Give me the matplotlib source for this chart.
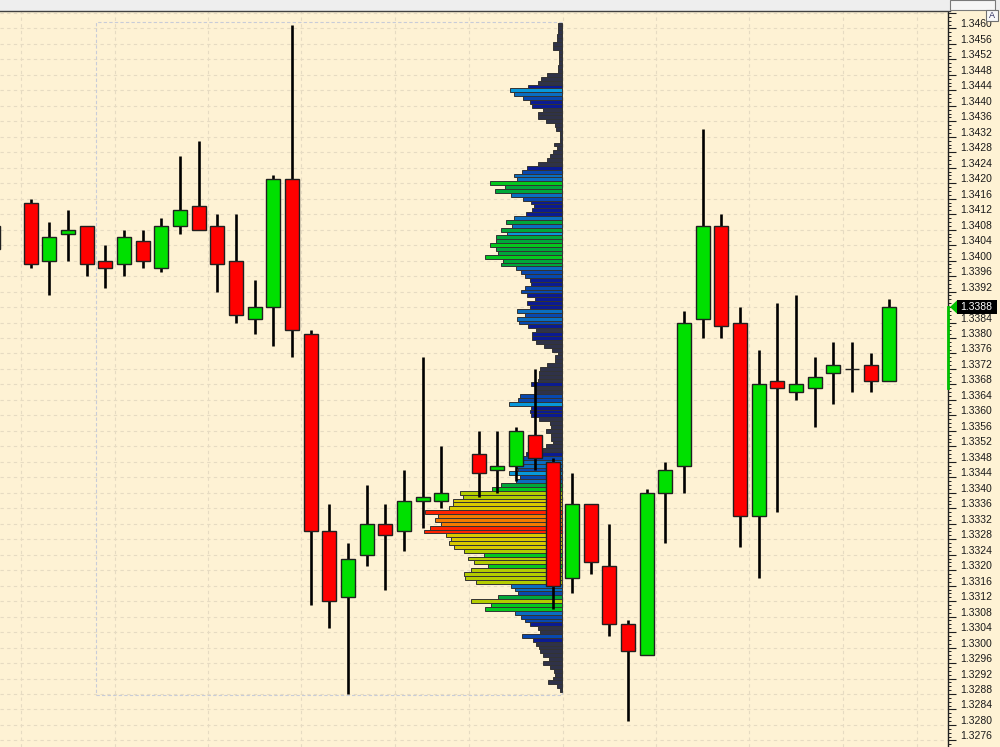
import numpy as np
import matplotlib
matplotlib.use("Agg")
import matplotlib.pyplot as plt
from matplotlib.patches import Rectangle, Polygon
from matplotlib.colors import ListedColormap, BoundaryNorm
from matplotlib.ticker import MultipleLocator
from matplotlib import transforms

nan = np.nan

# OHLC per bar slot (nan = missing bar)
opens = [1.3409, nan, 1.3415, 1.3400, 1.3407, 1.3409, 1.3400, 1.3399, 1.3405, 1.3398,
         1.3409, 1.3414, 1.3409, 1.3400, 1.3385, 1.3388, 1.3421, 1.3381, 1.3330, 1.3313,
         1.3324, 1.3332, 1.3330, 1.3338, 1.3338, nan, 1.3350, 1.3346, 1.3347, 1.3355,
         1.3348, 1.3318, 1.3337, 1.3321, 1.3306, 1.3298, 1.3340, 1.3347, 1.3385, 1.3409,
         1.3384, 1.3334, 1.3369, 1.3366, 1.3367, 1.3371, 1.3372, 1.3373, 1.3369]
highs = [1.3409, nan, 1.3416, 1.3410, 1.3413, 1.3409, 1.3404, 1.3408, 1.3408, 1.3411,
         1.3427, 1.3431, 1.3412, 1.3412, 1.3395, 1.3422, 1.3461, 1.3382, 1.3337, 1.3327,
         1.3342, 1.3337, 1.3346, 1.3375, 1.3352, nan, 1.3356, 1.3356, 1.3357, 1.3372,
         1.3349, 1.3345, 1.3337, 1.3332, 1.3307, 1.3341, 1.3348, 1.3387, 1.3434, 1.3412,
         1.3388, 1.3377, 1.3389, 1.3391, 1.3375, 1.3379, 1.3379, 1.3376, 1.3390]
lows = [1.3403, nan, 1.3398, 1.3391, 1.3400, 1.3396, 1.3393, 1.3396, 1.3398, 1.3397,
        1.3407, 1.3408, 1.3392, 1.3384, 1.3381, 1.3378, 1.3375, 1.3311, 1.3305, 1.3288,
        1.3321, 1.3315, 1.3325, 1.3331, 1.3336, nan, 1.3339, 1.3340, 1.3343, 1.3346,
        1.3310, 1.3314, 1.3319, 1.3303, 1.3281, 1.3298, 1.3327, 1.3340, 1.3380, 1.3380,
        1.3326, 1.3318, 1.3335, 1.3364, 1.3357, 1.3363, 1.3366, 1.3366, 1.3369]
closes = [1.3403, nan, 1.3399, 1.3406, 1.3408, 1.3399, 1.3398, 1.3406, 1.3400, 1.3409,
          1.3413, 1.3408, 1.3399, 1.3386, 1.3388, 1.3421, 1.3382, 1.3330, 1.3312, 1.3323,
          1.3332, 1.3329, 1.3338, 1.3339, 1.3340, nan, 1.3345, 1.3347, 1.3356, 1.3349,
          1.3316, 1.3337, 1.3322, 1.3306, 1.3299, 1.3340, 1.3346, 1.3384, 1.3409, 1.3383,
          1.3334, 1.3368, 1.3367, 1.3368, 1.3370, 1.3373, 1.3372, 1.3369, 1.3388]

# volume profile, one value per pip from the top price downwards
profile_top = 1.3461
profile_step = 0.0001
profile_vol = [4, 4, 4, 5, 5, 9, 9, 3, 3, 3,
               3, 4, 4, 15, 21, 24, 34, 52, 48, 39,
               32, 30, 19, 24, 24, 16, 7, 6, 2, 2,
               2, 8, 5, 9, 12, 15, 24, 35, 40, 48,
               45, 72, 57, 67, 51, 39, 31, 28, 30, 36,
               48, 56, 50, 61, 55, 66, 66, 72, 66, 64,
               77, 59, 61, 46, 41, 37, 32, 31, 37, 41,
               35, 27, 35, 32, 45, 37, 45, 43, 34, 26,
               30, 30, 26, 18, 10, 4, 7, 7, 15, 22,
               23, 23, 24, 31, 26, 26, 42, 44, 53, 31,
               32, 31, 23, 12, 11, 16, 11, 11, 9, 16,
               20, 36, 42, 46, 46, 44, 53, 42, 46, 61,
               70, 102, 99, 109, 109, 113, 137, 124, 127, 121,
               132, 138, 116, 111, 113, 108, 98, 78, 94, 88,
               74, 91, 98, 97, 86, 51, 47, 44, 64, 91,
               71, 77, 47, 41, 37, 32, 24, 22, 40, 29,
               26, 23, 22, 19, 13, 19, 12, 8, 7, 9,
               14, 5, 2]
vol_bounds = [0, 27, 37, 45, 52, 56, 70, 84, 106, 118, 129, 200]
vol_colors = ['#2F3249', '#0B1B92', '#0848AE', '#0A6EC0', '#0898DA', '#00A83A',
              '#05C81E', '#B4CC00', '#D9C900', '#F57A00', '#FF2200']

price_labels = np.arange(13276, 13464, 4) / 10000
grid_slots = [1.5, 6.5, 11.5, 16.5, 21.5, 25.5, 30.5, 35.5, 40.5, 45.5, 49.5]
last_price = 1.3388
last_range = (1.3367, 1.3388)

BG = '#FEF2D4'
W, H = 1000, 747
top_px = 11
axis_px = 948
slot_px = 18.667

fig = plt.figure(figsize=(W / 100, H / 100), dpi=100, facecolor=BG)
ax = fig.add_axes([0, 0, axis_px / W, (H - top_px) / H])
ax.set_facecolor(BG)

x_left = 0.36
ax.set_xlim(x_left, x_left + axis_px / slot_px)
ax.set_ylim(1.32743, 1.34645)

# grid
ax.yaxis.set_major_locator(MultipleLocator(0.0004))
ax.yaxis.set_minor_locator(MultipleLocator(0.0001))
ax.set_xticks(grid_slots)
ax.grid(True, which='major', color='#E6DBC2', ls=(0, (3, 3)), lw=0.8)
ax.set_axisbelow(True)

# volume profile
prof_right = 30.46
vol = np.array(profile_vol, dtype=float)
prices = profile_top - profile_step * np.arange(len(vol))
cmap = ListedColormap(vol_colors)
norm = BoundaryNorm(vol_bounds, cmap.N)
widths = vol / slot_px
ax.add_patch(Rectangle((5.52, 1.32878), prof_right - 5.52, 1.34617 - 1.32878,
                       fill=False, edgecolor='#C8CCD8', ls=(0, (3, 2)), lw=0.8, zorder=1))
ax.barh(prices, widths, left=prof_right - widths, height=profile_step,
        color=cmap(norm(vol)), edgecolor='#333333', linewidth=0.7, zorder=2)

# candles
o = np.array(opens); h = np.array(highs); l = np.array(lows); c = np.array(closes)
x = np.arange(len(o))
ok = ~np.isnan(o)
ax.vlines(x[ok], l[ok], h[ok], color='black', lw=1.9, zorder=3)
body_col = np.where(c[ok] > o[ok], '#00E000', '#FF0000')
ax.bar(x[ok], np.abs(c[ok] - o[ok]), bottom=np.minimum(o[ok], c[ok]), width=0.75,
       color=body_col, edgecolor='#202020', linewidth=1.0, zorder=4)

# right price axis
for side in ['left', 'top', 'bottom']:
    ax.spines[side].set_visible(False)
ax.spines['right'].set_color('#202020')
ax.spines['right'].set_linewidth(1.0)
ax.yaxis.tick_right()
ax.tick_params(axis='y', which='major', direction='out', length=6, width=0.8,
               color='#202020', labelright=False, labelleft=False)
ax.tick_params(axis='y', which='minor', direction='out', length=2.5, width=0.7,
               color='#202020')
ax.tick_params(axis='x', length=0, labelbottom=False)

lab_tr = transforms.offset_copy(ax.get_yaxis_transform(), fig=fig, x=12, y=4, units='dots')
for p in price_labels:
    if abs(p - last_price) < 1e-6:
        continue  # hidden under the last price box
    ax.text(1, p, f"{p:.4f}", transform=lab_tr, ha='left', va='center',
            fontsize=7.5, family='Liberation Sans', color='#1A1A1A', clip_on=False)

# last price marker
fig_data = transforms.blended_transform_factory(fig.transFigure, ax.transData)
ax.plot([0.9475, 0.9475], last_range, transform=fig_data, color='#00C000', lw=2,
        clip_on=False, zorder=6)
ax.add_patch(Polygon([(0.950, last_price), (0.957, last_price + 0.00017),
                      (0.957, last_price - 0.00017)], closed=True, transform=fig_data,
                     facecolor='#00C000', edgecolor='none', clip_on=False, zorder=6))
ax.add_patch(Rectangle((0.957, last_price - 0.00017), 0.040, 0.00034, transform=fig_data,
                       facecolor='black', edgecolor='none', clip_on=False, zorder=6))
ax.text(0.960, last_price, f"{last_price:.4f}", transform=fig_data, ha='left', va='center',
        fontsize=7.5, family='Liberation Sans', color='white', clip_on=False, zorder=7)

# window top strip
fig.add_artist(Rectangle((0, 1 - top_px / H), 1, top_px / H, transform=fig.transFigure,
                         facecolor='#EEEEEE', edgecolor='none', zorder=10))
fig.add_artist(plt.Line2D([0, 0.95], [1 - 10.5 / H] * 2, transform=fig.transFigure,
                          color='#404040', lw=1, zorder=11))
fig.add_artist(Rectangle((0.950, 1 - 10 / H), 0.045, 10 / H, transform=fig.transFigure,
                         facecolor='#F6F6F6', edgecolor='#7A7A7A', lw=0.8, zorder=11))
fig.add_artist(Rectangle((0.986, 1 - 21 / H), 0.012, 11 / H, transform=fig.transFigure,
                         facecolor='#F8F8F8', edgecolor='#707070', lw=0.8, zorder=11))
fig.text(0.992, 1 - 15.5 / H, "A", ha='center', va='center', fontsize=6.5,
         family='Liberation Sans', color='#303060', zorder=12)

fig.savefig("out.png", dpi=100, facecolor=BG)
